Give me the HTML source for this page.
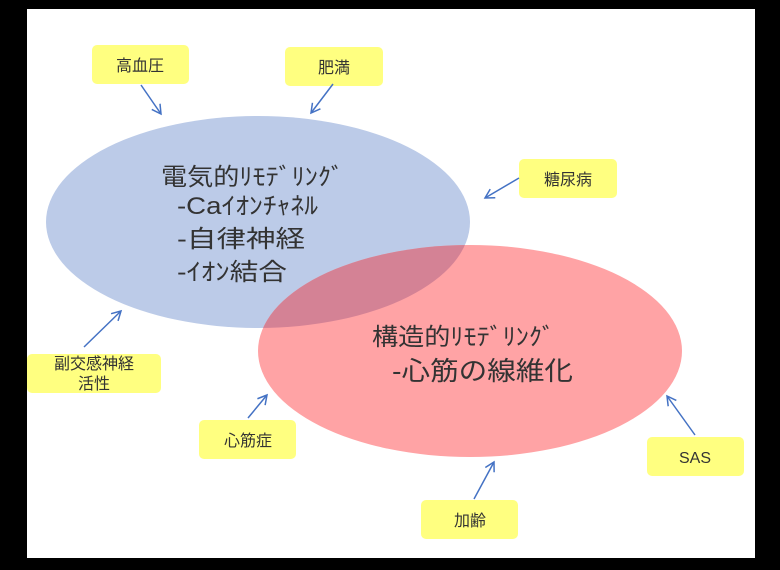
<!DOCTYPE html>
<html><head><meta charset="utf-8"><style>
html,body{margin:0;padding:0;background:#000;}
svg{display:block;}
text{font-family:"Liberation Sans","Noto Sans CJK JP",sans-serif;}
</style></head><body>
<svg width="780" height="570" viewBox="0 0 780 570" xmlns="http://www.w3.org/2000/svg">
<defs>
<clipPath id="cb"><ellipse cx="258" cy="222" rx="212" ry="106"/></clipPath>
<marker id="ah" markerWidth="12" markerHeight="12" refX="10" refY="6" orient="auto" markerUnits="userSpaceOnUse">
<path d="M1,1 L10,6 L1,11" fill="none" stroke="#4472c4" stroke-width="1.5"/>
</marker>
</defs>
<rect x="27" y="9" width="728" height="549" fill="#fff"/>
<ellipse cx="258" cy="222" rx="212" ry="106" fill="#bccbe8"/>
<ellipse cx="470" cy="351" rx="212" ry="106" fill="#ffa3a5"/>
<ellipse cx="470" cy="351" rx="212" ry="106" fill="#d48295" clip-path="url(#cb)"/>
<g fill="#333" font-size="24">
<text x="161" y="185" textLength="183" lengthAdjust="spacingAndGlyphs">電気的ﾘﾓﾃﾞﾘﾝｸﾞ</text>
<text x="177" y="214" textLength="141" lengthAdjust="spacingAndGlyphs">-Caｲｵﾝﾁｬﾈﾙ</text>
<text x="177" y="247" textLength="128" lengthAdjust="spacingAndGlyphs">-自律神経</text>
<text x="177" y="280" textLength="110" lengthAdjust="spacingAndGlyphs">-ｲｵﾝ結合</text>
<text x="372" y="345" textLength="183" lengthAdjust="spacingAndGlyphs">構造的ﾘﾓﾃﾞﾘﾝｸﾞ</text>
<text x="392" y="380" font-size="26" textLength="181" lengthAdjust="spacingAndGlyphs">-心筋の線維化</text>
</g>
<g fill="#ffff80">
<rect x="92" y="45" width="97" height="39" rx="5"/>
<rect x="285" y="47" width="98" height="39" rx="5"/>
<rect x="519" y="159" width="98" height="39" rx="5"/>
<rect x="27" y="354" width="134" height="39" rx="5"/>
<rect x="199" y="420" width="97" height="39" rx="5"/>
<rect x="421" y="500" width="97" height="39" rx="5"/>
<rect x="647" y="437" width="97" height="39" rx="5"/>
</g>
<g fill="#333" font-size="16" text-anchor="middle">
<text x="140" y="71">高血圧</text>
<text x="334" y="73">肥満</text>
<text x="568" y="185">糖尿病</text>
<text x="94" y="369">副交感神経</text>
<text x="94" y="389">活性</text>
<text x="248" y="446">心筋症</text>
<text x="470" y="526">加齢</text>
<text x="695" y="463">SAS</text>
</g>
<g stroke="#4472c4" stroke-width="1.5" marker-end="url(#ah)">
<line x1="141" y1="85" x2="161" y2="114"/>
<line x1="333" y1="84" x2="311" y2="113"/>
<line x1="519" y1="178" x2="485" y2="198"/>
<line x1="84" y1="347" x2="121" y2="311"/>
<line x1="248" y1="418" x2="267" y2="395"/>
<line x1="474" y1="499" x2="494" y2="462"/>
<line x1="695" y1="435" x2="667" y2="396"/>
</g>
</svg>
</body></html>
